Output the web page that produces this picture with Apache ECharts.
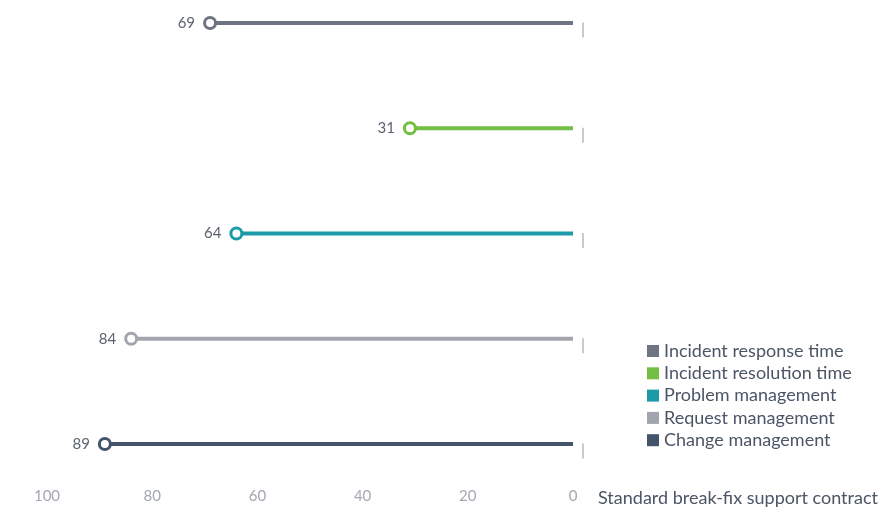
<!DOCTYPE html>
<html>
<head>
<meta charset="utf-8">
<script src="https://cdn.jsdelivr.net/npm/echarts@6/dist/echarts.min.js"></script>
<style>
  html, body { margin: 0; padding: 0; background: #ffffff; }
  #chart { width: 893px; height: 514px; }
</style>
</head>
<body>
<div id="chart"></div>
<script>
// Service areas, one lollipop row each
const categories = [
  'Incident response time',
  'Incident resolution time',
  'Problem management',
  'Request management',
  'Change management'
];
const values = [69, 31, 64, 84, 89];
const colors = ['#6e7482', '#72bf44', '#1b9aa8', '#a2a5ad', '#44546a'];
const xTicks = [0, 20, 40, 60, 80, 100];
const axisTitle = 'Standard break-fix support contract';

const FONT = 'Lato, "Open Sans", sans-serif';

const series = categories.map((name, i) => ({
  name: name,
  type: 'line',
  color: colors[i],
  lineStyle: { width: 4, color: colors[i] },
  itemStyle: { color: '#ffffff', borderColor: colors[i], borderWidth: 3 },
  symbol: 'circle',
  symbolSize: 11,
  showAllSymbol: true,
  animation: false,
  z: 3,
  data: [
    {
      value: [values[i], name],
      label: {
        show: true,
        position: 'left',
        distance: 8,
        color: '#5c6370',
        fontSize: 15,
        fontFamily: FONT
      }
    },
    { value: [0, name], symbol: 'none' }
  ]
}));

// Small baseline markers beside the zero end of each row
series.push({
  name: 'baseline',
  type: 'scatter',
  symbol: 'rect',
  symbolSize: [2, 15],
  symbolOffset: [10, 7],
  itemStyle: { color: '#b9bdc6' },
  silent: true,
  animation: false,
  z: 1,
  data: categories.map(c => [0, c])
});

const chart = echarts.init(document.getElementById('chart'), null, { renderer: 'canvas' });
chart.setOption({
  animation: false,
  backgroundColor: '#ffffff',
  textStyle: { fontFamily: FONT },
  grid: { left: 47, right: 320, top: 23, height: 421, containLabel: false },
  legend: {
    data: categories.map((name, i) => ({
      name: name,
      itemStyle: { color: colors[i], borderWidth: 0 }
    })),
    orient: 'vertical',
    left: 642,
    top: 337,
    icon: 'rect',
    itemWidth: 12,
    itemHeight: 12,
    itemGap: 4.3,
    selectedMode: false,
    textStyle: { color: '#4b5566', fontSize: 18, lineHeight: 18, fontFamily: FONT }
  },
  xAxis: {
    type: 'value',
    min: 0,
    max: 100,
    interval: 20,
    inverse: true,
    name: axisTitle,
    nameLocation: 'start',
    nameGap: 25,
    nameTextStyle: { color: '#4b5566', fontSize: 18, fontFamily: FONT, verticalAlign: 'top', padding: [45, 0, 0, 0] },
    axisLine: { show: false },
    axisTick: { show: false },
    splitLine: { show: false },
    axisLabel: {
      margin: 45,
      color: '#a3a8b1',
      fontSize: 15,
      fontFamily: FONT,
      formatter: v => (xTicks.indexOf(v) >= 0 ? String(v) : '')
    }
  },
  yAxis: {
    type: 'category',
    data: categories,
    inverse: true,
    boundaryGap: false,
    axisLine: { show: false },
    axisTick: { show: false },
    axisLabel: { show: false },
    splitLine: { show: false }
  },
  series: series
});
</script>
</body>
</html>
